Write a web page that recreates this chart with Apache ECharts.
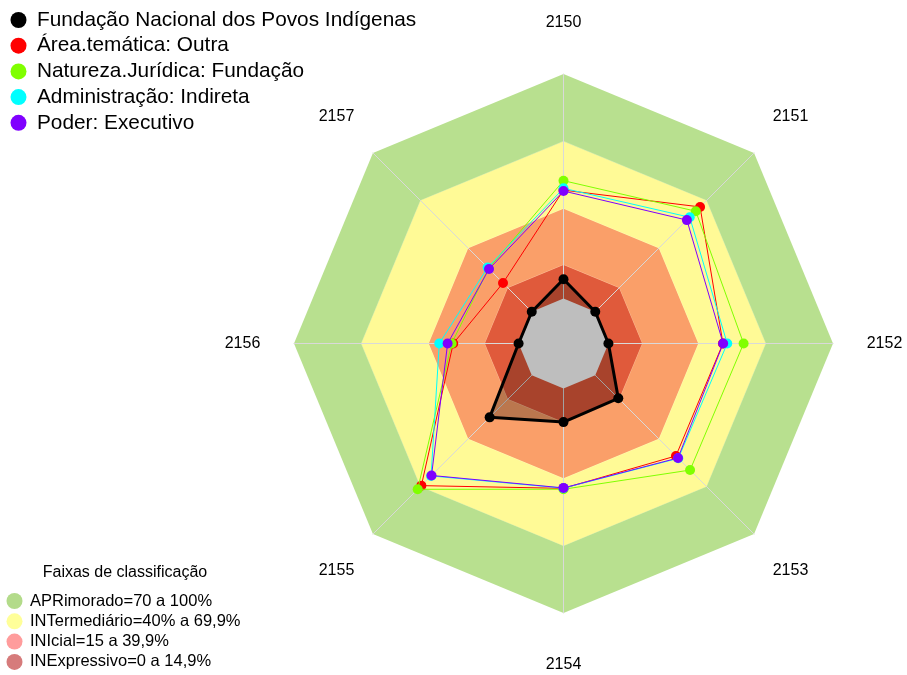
<!DOCTYPE html>
<html>
<head>
<meta charset="utf-8">
<script src="https://cdn.jsdelivr.net/npm/echarts@6/dist/echarts.min.js"></script>
<style>html,body{margin:0;padding:0;background:#fff}#c{width:907px;height:675px}</style>
</head>
<body>
<div id="c"></div>
<script>
// ---- data ----
const categories = ['2150','2151','2152','2153','2154','2155','2156','2157'];
const seriesNames = ['Fundação Nacional dos Povos Indígenas','Área.temática: Outra','Natureza.Jurídica: Fundação','Administração: Indireta','Poder: Executivo'];
const valFunai     = [8.6, 0, 0, 14.5, 15, 26.5, 0, 0];
const valArea      = [48.3, 66.0, 51.0, 50.8, 44.5, 69.5, 29.1, 18.1];
const valNatureza  = [52.5, 63.3, 60.2, 59.7, 44.9, 71.8, 29.8, 27.2];
const valAdmin     = [49.1, 59.5, 52.9, 52.3, 44.4, 63.4, 35.3, 27.8];
const valPoder     = [47.9, 57.7, 51.1, 52.1, 44.3, 63.1, 31.6, 26.9];
const bandNames = ['APRimorado=70 a 100%','INTermediário=40% a 69,9%','INIcial=15 a 39,9%','INExpressivo=0 a 14,9%'];
const bandUpper = [100, 70, 40, 15];
const baseValue = 0;
const axisMin = -20, axisMax = 100;
const legendTitle = 'Faixas de classificação';

// ---- styles ----
const seriesColors = ['#000000','#ff0000','#80ff00','#00ffff','#8000ff'];
const bandFill = ['#b8e08f','#fffa96','#fa9f69','#e05a3b'];
const bandLegendColor = ['#b3db8a','#ffff99','#ff9c9c','#d67b7b'];
const FONT = "'Liberation Sans', Arial, sans-serif";
const CX = 563.5, CY = 343.5, R = 269.5, LABEL_R = 321;

// radar draws counter-clockwise; reorder to get clockwise layout
const ccw = v => [v[0]].concat(v.slice(1).reverse());
const indicators = ccw(categories).map(n => ({name: n, min: axisMin, max: axisMax}));
const constArr = c => categories.map(() => c);

const chart = echarts.init(document.getElementById('c'), null, {renderer: 'canvas'});

const series = [];
// bands
series.push({
  type: 'radar', z: 1, silent: true, symbol: 'none',
  data: bandUpper.map((u, i) => ({
    name: bandNames[i], value: ccw(constArr(u)),
    itemStyle: {color: bandLegendColor[i]},
    areaStyle: {color: bandFill[i], opacity: 1},
    lineStyle: {color: 'rgba(255,255,255,0.3)', width: 1}
  }))
});
// translucent fill of main series
series.push({
  type: 'radar', z: 3, silent: true, symbol: 'none',
  data: [{name: '_fill', value: ccw(valFunai),
    areaStyle: {color: 'rgba(0,0,0,0.25)', opacity: 1},
    lineStyle: {width: 0, opacity: 0}}]
});
// grey centre (below 0)
series.push({
  type: 'radar', z: 4, silent: true, symbol: 'none',
  data: [{name: '_base', value: ccw(constArr(baseValue)),
    areaStyle: {color: '#bebebe', opacity: 1},
    lineStyle: {width: 0, opacity: 0}}]
});
const allVals = [valFunai, valArea, valNatureza, valAdmin, valPoder];
allVals.forEach((v, i) => {
  series.push({
    type: 'radar', z: 5 + i, silent: true,
    symbol: 'circle', symbolSize: 10,
    data: [{name: seriesNames[i], value: ccw(v),
      itemStyle: {color: seriesColors[i]},
      lineStyle: {color: seriesColors[i], width: i === 0 ? 3 : 1}}]
  });
});

const graphics = categories.map((c, i) => {
  const a = (90 - i * 45) * Math.PI / 180;
  return {type: 'text', x: CX + LABEL_R * Math.cos(a), y: CY - LABEL_R * Math.sin(a), z: 10,
    style: {text: c, fill: '#000', font: '16px ' + FONT, textAlign: 'center', textVerticalAlign: 'middle'}};
});
graphics.push({type: 'text', x: 125, y: 573, z: 10,
  style: {text: legendTitle, fill: '#000', font: '16px ' + FONT, textAlign: 'center', textVerticalAlign: 'middle'}});

chart.setOption({
  animation: false,
  backgroundColor: '#ffffff',
  textStyle: {fontFamily: FONT},
  radar: {
    z: 2,
    center: [CX, CY], radius: R, startAngle: 90, shape: 'polygon',
    indicator: indicators,
    axisName: {show: false},
    axisLine: {show: true, lineStyle: {color: '#d9d9d9', width: 1}},
    splitLine: {show: false},
    splitArea: {show: false},
    axisTick: {show: false},
    axisLabel: {show: false}
  },
  legend: [
    {orient: 'vertical', left: 10.5, top: 9.5, padding: 0, height: 140, icon: 'circle', itemWidth: 27, itemHeight: 16, itemGap: 4.7,
     selectedMode: false, data: seriesNames,
     textStyle: {fontSize: 20.8, lineHeight: 20, color: '#000', fontFamily: FONT}},
    {orient: 'vertical', left: 6.5, top: 592.5, padding: 0, height: 82, icon: 'circle', itemWidth: 21, itemHeight: 16, itemGap: 3.3,
     selectedMode: false,
     data: bandNames.map((n, i) => ({name: n, itemStyle: {color: bandLegendColor[i]}})),
     textStyle: {fontSize: 16.5, lineHeight: 16, color: '#000', fontFamily: FONT}}
  ],
  graphic: graphics,
  series: series
});
</script>
</body>
</html>
